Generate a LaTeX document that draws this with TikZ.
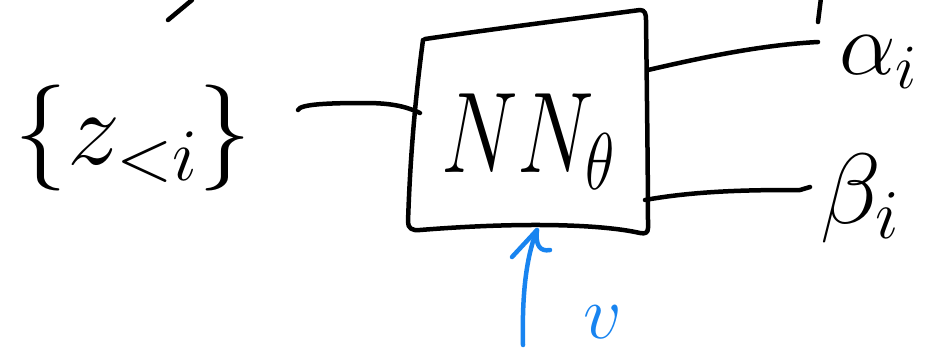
\documentclass[tikz,border=0pt]{standalone}
\usepackage{fix-cm}
\usepackage{graphicx}
\definecolor{bluepen}{RGB}{24,132,240}
\begin{document}
\begin{tikzpicture}[x=1pt,y=-1pt,
  ink/.style={line width=4.5pt, line cap=round, line join=round, draw=black},
  blueink/.style={ink, draw=bluepen},
  lbl/.style={inner sep=0pt, anchor=center}]
\useasboundingbox (0,0) rectangle (939,353);
% hand-drawn box
\draw[ink] (425,39) .. controls (500,28) and (580,18) .. (640,10)
  .. controls (645,10) and (646,14) .. (646,20)
  .. controls (647,100) and (648,180) .. (648,228)
  .. controls (648,233) and (645,234) .. (640,233)
  .. controls (600,224) and (520,222) .. (420,230)
  .. controls (412,231) and (408,228) .. (408,222)
  .. controls (410,160) and (415,100) .. (423,40);
\coordinate (boxin) at (420,113);
\coordinate (boxoutA) at (648,70);
\coordinate (boxoutB) at (645,200);
\coordinate (bottom) at (537,230);
% labels
\node[lbl] (nn) at (528,142) {\scalebox{0.75}[1]{\fontsize{115}{120}\selectfont $NN_{\theta}$}};
\node[lbl] (z) at (133,138) {\fontsize{106}{110}\selectfont $\{z_{<i}\}$};
\node[lbl] (alpha) at (878,62) {\fontsize{90}{100}\selectfont $\alpha_{i}$};
\node[lbl] (beta) at (860,198) {\fontsize{100}{100}\selectfont $\beta_{i}$};
\node[lbl, text=bluepen] (v) at (603,322) {\fontsize{76}{80}\selectfont $v$};
% connector ends
\coordinate (zend) at (298,110);
\coordinate (aend) at (818,42);
\coordinate (bend) at (810,187);
\coordinate (vstart) at (523,345);
% connectors
\draw[ink] (zend) .. controls (300,104) and (330,103) .. (365,103)
  .. controls (390,103) and (405,106) .. (boxin);
\draw[ink] (boxoutA) .. controls (700,58) and (760,45) .. (aend);
\draw[ink] (boxoutB) .. controls (700,190) and (760,190) .. (800,190) -- (bend);
% blue arrow
\draw[blueink] (vstart) .. controls (522,300) and (525,260) .. (bottom);
\draw[blueink] (512,257) -- (bottom) .. controls (535,245) and (540,252) .. (550,250);
% stray strokes at the top edge
\draw[ink] (168,20) -- (192,0);
\draw[ink] (818,22) -- (821,-2);
\end{tikzpicture}
\end{document}
